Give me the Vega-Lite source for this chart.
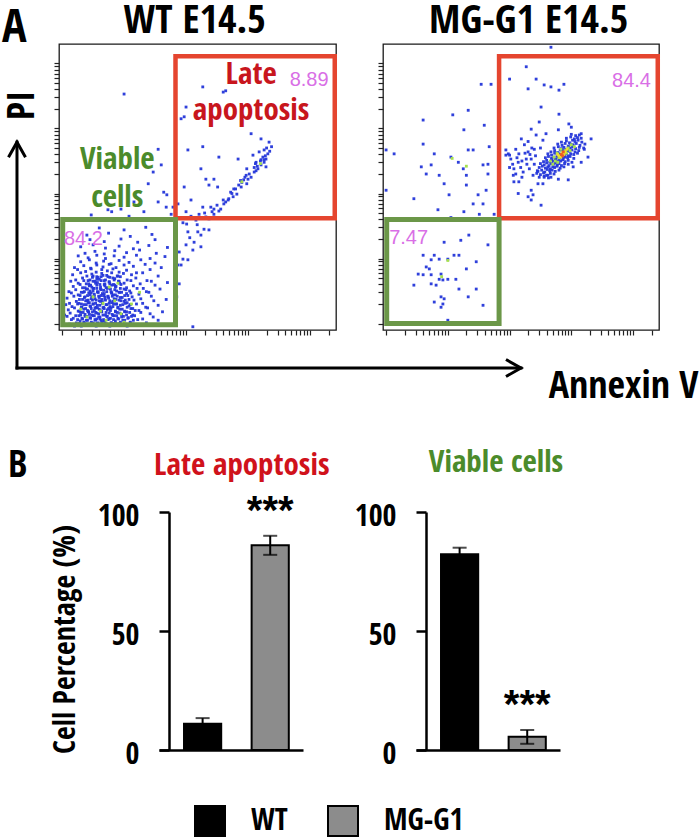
{
"$schema": "https://vega.github.io/schema/vega-lite/v6.json",
"padding": {"top": 0, "left": 1, "right": 0, "bottom": 0},
"background": "white",
"columns": 2,
"bounds": "flush",
"spacing": {"row": 182, "column": 47},
"resolve": {"scale": {"color": "independent"}, "legend": {"color": "independent"}},
"config": {
  "font": "Noto Sans Condensed, Open Sans Condensed, Liberation Sans Narrow, DejaVu Sans Condensed, sans-serif",
  "view": {"stroke": null},
  "axis": {"grid": false, "labelColor": "black", "titleColor": "black"}
},
"datasets": {
  "wt": [
    {"av":1.05,"pi":0.97},{"av":1.12,"pi":0.99},{"av":1.2,"pi":0.96},{"av":1.26,"pi":0.98},{"av":1.31,"pi":0.96},{"av":1.38,"pi":0.99},{"av":1.44,"pi":0.97},{"av":1.49,"pi":1.0},{"av":1.55,"pi":0.96},{"av":1.6,"pi":0.98},{"av":1.66,"pi":0.97},{"av":1.71,"pi":0.99},{"av":1.77,"pi":0.96},{"av":1.83,"pi":1.0},{"av":1.9,"pi":0.97},{"av":1.97,"pi":0.98},{"av":2.05,"pi":0.96},{"av":2.14,"pi":0.99},{"av":2.25,"pi":0.97},{"av":2.4,"pi":0.98},
    {"av":1.02,"pi":1.03},{"av":1.15,"pi":1.06},{"av":1.23,"pi":1.01},{"av":1.29,"pi":1.04},{"av":1.36,"pi":1.0},{"av":1.41,"pi":1.05},{"av":1.47,"pi":1.02},{"av":1.53,"pi":1.06},{"av":1.58,"pi":1.01},{"av":1.63,"pi":1.05},{"av":1.69,"pi":1.03},{"av":1.74,"pi":1.06},{"av":1.8,"pi":1.01},{"av":1.86,"pi":1.04},{"av":1.93,"pi":1.0},{"av":2.01,"pi":1.05},{"av":2.1,"pi":1.02},{"av":2.22,"pi":1.06},{"av":2.36,"pi":1.01},{"av":2.55,"pi":1.05},
    {"av":1.08,"pi":1.11},{"av":1.18,"pi":1.08},{"av":1.27,"pi":1.12},{"av":1.33,"pi":1.07},{"av":1.4,"pi":1.11},{"av":1.45,"pi":1.09},{"av":1.5,"pi":1.12},{"av":1.56,"pi":1.07},{"av":1.61,"pi":1.1},{"av":1.67,"pi":1.06},{"av":1.72,"pi":1.11},{"av":1.78,"pi":1.08},{"av":1.84,"pi":1.12},{"av":1.91,"pi":1.07},{"av":1.99,"pi":1.11},{"av":2.07,"pi":1.09},{"av":2.17,"pi":1.12},{"av":2.3,"pi":1.07},{"av":2.47,"pi":1.1},
    {"av":1.04,"pi":1.13},{"av":1.13,"pi":1.16},{"av":1.22,"pi":1.12},{"av":1.3,"pi":1.17},{"av":1.37,"pi":1.14},{"av":1.43,"pi":1.18},{"av":1.48,"pi":1.13},{"av":1.54,"pi":1.17},{"av":1.59,"pi":1.15},{"av":1.64,"pi":1.18},{"av":1.7,"pi":1.13},{"av":1.76,"pi":1.16},{"av":1.82,"pi":1.12},{"av":1.89,"pi":1.17},{"av":1.96,"pi":1.14},{"av":2.04,"pi":1.18},{"av":2.14,"pi":1.13},{"av":2.27,"pi":1.17},{"av":2.42,"pi":1.15},{"av":2.62,"pi":1.18},
    {"av":1.1,"pi":1.21},{"av":1.2,"pi":1.24},{"av":1.28,"pi":1.19},{"av":1.35,"pi":1.22},{"av":1.42,"pi":1.18},{"av":1.47,"pi":1.23},{"av":1.52,"pi":1.2},{"av":1.57,"pi":1.24},{"av":1.63,"pi":1.19},{"av":1.68,"pi":1.23},{"av":1.73,"pi":1.21},{"av":1.79,"pi":1.24},{"av":1.86,"pi":1.19},{"av":1.93,"pi":1.22},{"av":2.01,"pi":1.18},{"av":2.11,"pi":1.23},{"av":2.24,"pi":1.2},{"av":2.38,"pi":1.24},
    {"av":1.06,"pi":1.29},{"av":1.16,"pi":1.26},{"av":1.25,"pi":1.3},{"av":1.32,"pi":1.25},{"av":1.39,"pi":1.29},{"av":1.45,"pi":1.27},{"av":1.5,"pi":1.3},{"av":1.55,"pi":1.25},{"av":1.61,"pi":1.28},{"av":1.66,"pi":1.24},{"av":1.71,"pi":1.29},{"av":1.77,"pi":1.26},{"av":1.83,"pi":1.3},{"av":1.9,"pi":1.25},{"av":1.98,"pi":1.29},{"av":2.08,"pi":1.27},{"av":2.2,"pi":1.3},{"av":2.35,"pi":1.25},{"av":2.55,"pi":1.28},
    {"av":1.12,"pi":1.31},{"av":1.23,"pi":1.34},{"av":1.31,"pi":1.3},{"av":1.38,"pi":1.35},{"av":1.44,"pi":1.32},{"av":1.49,"pi":1.36},{"av":1.54,"pi":1.31},{"av":1.6,"pi":1.35},{"av":1.65,"pi":1.33},{"av":1.7,"pi":1.36},{"av":1.76,"pi":1.31},{"av":1.82,"pi":1.34},{"av":1.88,"pi":1.3},{"av":1.95,"pi":1.35},{"av":2.05,"pi":1.32},{"av":2.16,"pi":1.36},{"av":2.3,"pi":1.31},{"av":2.48,"pi":1.35},
    {"av":1.08,"pi":1.39},{"av":1.19,"pi":1.42},{"av":1.28,"pi":1.37},{"av":1.36,"pi":1.4},{"av":1.42,"pi":1.36},{"av":1.48,"pi":1.41},{"av":1.53,"pi":1.38},{"av":1.59,"pi":1.42},{"av":1.64,"pi":1.37},{"av":1.69,"pi":1.41},{"av":1.75,"pi":1.39},{"av":1.81,"pi":1.42},{"av":1.87,"pi":1.37},{"av":1.94,"pi":1.4},{"av":2.02,"pi":1.36},{"av":2.13,"pi":1.41},{"av":2.27,"pi":1.38},{"av":2.44,"pi":1.42},{"av":2.68,"pi":1.37},
    {"av":1.15,"pi":1.47},{"av":1.26,"pi":1.44},{"av":1.34,"pi":1.48},{"av":1.41,"pi":1.43},{"av":1.47,"pi":1.47},{"av":1.52,"pi":1.45},{"av":1.58,"pi":1.48},{"av":1.63,"pi":1.43},{"av":1.68,"pi":1.46},{"av":1.74,"pi":1.42},{"av":1.8,"pi":1.47},{"av":1.86,"pi":1.44},{"av":1.93,"pi":1.48},{"av":2.01,"pi":1.43},{"av":2.11,"pi":1.47},{"av":2.24,"pi":1.45},{"av":2.4,"pi":1.48},
    {"av":1.11,"pi":1.49},{"av":1.22,"pi":1.52},{"av":1.31,"pi":1.48},{"av":1.39,"pi":1.53},{"av":1.45,"pi":1.5},{"av":1.51,"pi":1.54},{"av":1.57,"pi":1.49},{"av":1.62,"pi":1.53},{"av":1.67,"pi":1.51},{"av":1.73,"pi":1.54},{"av":1.79,"pi":1.49},{"av":1.85,"pi":1.52},{"av":1.92,"pi":1.48},{"av":2.0,"pi":1.53},{"av":2.09,"pi":1.5},{"av":2.21,"pi":1.54},{"av":2.36,"pi":1.49},{"av":2.58,"pi":1.53},
    {"av":1.18,"pi":1.57},{"av":1.29,"pi":1.6},{"av":1.37,"pi":1.55},{"av":1.44,"pi":1.58},{"av":1.5,"pi":1.54},{"av":1.56,"pi":1.59},{"av":1.62,"pi":1.56},{"av":1.68,"pi":1.6},{"av":1.74,"pi":1.55},{"av":1.8,"pi":1.59},{"av":1.87,"pi":1.57},{"av":1.95,"pi":1.6},{"av":2.04,"pi":1.55},{"av":2.15,"pi":1.58},{"av":2.31,"pi":1.54},{"av":2.5,"pi":1.59},
    {"av":1.14,"pi":1.65},{"av":1.26,"pi":1.62},{"av":1.35,"pi":1.66},{"av":1.43,"pi":1.61},{"av":1.5,"pi":1.65},{"av":1.57,"pi":1.63},{"av":1.63,"pi":1.66},{"av":1.69,"pi":1.61},{"av":1.76,"pi":1.64},{"av":1.83,"pi":1.6},{"av":1.91,"pi":1.65},{"av":2.0,"pi":1.62},{"av":2.11,"pi":1.66},{"av":2.26,"pi":1.61},{"av":2.44,"pi":1.65},{"av":2.7,"pi":1.63},
    {"av":1.22,"pi":1.67},{"av":1.33,"pi":1.7},{"av":1.42,"pi":1.66},{"av":1.49,"pi":1.71},{"av":1.56,"pi":1.68},{"av":1.63,"pi":1.72},{"av":1.7,"pi":1.67},{"av":1.77,"pi":1.71},{"av":1.85,"pi":1.69},{"av":1.94,"pi":1.72},{"av":2.05,"pi":1.67},{"av":2.19,"pi":1.7},{"av":2.37,"pi":1.66},
    {"av":1.17,"pi":1.75},{"av":1.3,"pi":1.78},{"av":1.4,"pi":1.73},{"av":1.48,"pi":1.76},{"av":1.56,"pi":1.72},{"av":1.64,"pi":1.77},{"av":1.72,"pi":1.74},{"av":1.8,"pi":1.78},{"av":1.89,"pi":1.73},{"av":1.99,"pi":1.77},{"av":2.12,"pi":1.75},{"av":2.3,"pi":1.78},{"av":2.55,"pi":1.73},
    {"av":1.25,"pi":1.83},{"av":1.38,"pi":1.8},{"av":1.47,"pi":1.84},{"av":1.55,"pi":1.79},{"av":1.64,"pi":1.83},{"av":1.73,"pi":1.81},{"av":1.82,"pi":1.84},{"av":1.92,"pi":1.79},{"av":2.04,"pi":1.82},{"av":2.2,"pi":1.78},{"av":2.42,"pi":1.83},
    {"av":1.2,"pi":1.86},{"av":1.35,"pi":1.89},{"av":1.46,"pi":1.85},{"av":1.56,"pi":1.9},{"av":1.66,"pi":1.87},{"av":1.76,"pi":1.91},{"av":1.87,"pi":1.86},{"av":2.0,"pi":1.9},{"av":2.15,"pi":1.88},{"av":2.34,"pi":1.91},{"av":2.6,"pi":1.86},
    {"av":1.3,"pi":1.95},{"av":1.44,"pi":1.98},{"av":1.55,"pi":1.93},{"av":1.67,"pi":1.96},{"av":1.79,"pi":1.92},{"av":1.92,"pi":1.97},{"av":2.08,"pi":1.94},{"av":2.27,"pi":1.98},{"av":2.5,"pi":1.93},
    {"av":1.26,"pi":2.04},{"av":1.42,"pi":2.01},{"av":1.56,"pi":2.05},{"av":1.7,"pi":2.0},{"av":1.84,"pi":2.04},{"av":2.0,"pi":2.02},{"av":2.2,"pi":2.05},{"av":2.42,"pi":2.0},{"av":2.66,"pi":2.03},
    {"av":1.37,"pi":2.08},{"av":1.53,"pi":2.11},{"av":1.68,"pi":2.07},{"av":1.85,"pi":2.12},{"av":2.04,"pi":2.09},{"av":2.25,"pi":2.13},{"av":2.52,"pi":2.08},
    {"av":1.3,"pi":2.18},{"av":1.5,"pi":2.21},{"av":1.7,"pi":2.16},{"av":1.92,"pi":2.19},{"av":2.15,"pi":2.15},{"av":2.4,"pi":2.2},{"av":2.7,"pi":2.17},
    {"av":1.45,"pi":2.29},{"av":1.68,"pi":2.26},{"av":1.95,"pi":2.3},{"av":2.22,"pi":2.25},{"av":2.5,"pi":2.29},
    {"av":1.4,"pi":2.36},{"av":1.75,"pi":2.39},{"av":2.1,"pi":2.34},{"av":2.45,"pi":2.37},
    {"av":1.6,"pi":2.47},{"av":2.0,"pi":2.44},{"av":2.35,"pi":2.48},
    {"av":1.28,"pi":1.0},{"av":1.35,"pi":1.02},{"av":1.42,"pi":0.99},{"av":1.5,"pi":1.01},{"av":1.57,"pi":1.0},{"av":1.64,"pi":1.02},{"av":1.72,"pi":0.99},{"av":1.79,"pi":1.01},{"av":1.87,"pi":1.0},{"av":1.94,"pi":1.02},{"av":2.02,"pi":0.99},{"av":2.1,"pi":1.01},
    {"av":1.25,"pi":1.06},{"av":1.32,"pi":1.08},{"av":1.39,"pi":1.05},{"av":1.46,"pi":1.08},{"av":1.54,"pi":1.05},{"av":1.61,"pi":1.07},{"av":1.68,"pi":1.04},{"av":1.76,"pi":1.07},{"av":1.83,"pi":1.06},{"av":1.9,"pi":1.08},{"av":1.98,"pi":1.05},{"av":2.06,"pi":1.08},{"av":2.15,"pi":1.05},
    {"av":1.3,"pi":1.13},{"av":1.37,"pi":1.11},{"av":1.44,"pi":1.14},{"av":1.52,"pi":1.12},{"av":1.59,"pi":1.1},{"av":1.66,"pi":1.13},{"av":1.73,"pi":1.11},{"av":1.81,"pi":1.14},{"av":1.88,"pi":1.12},{"av":1.96,"pi":1.1},{"av":2.04,"pi":1.13},{"av":2.12,"pi":1.11},
    {"av":1.26,"pi":1.19},{"av":1.34,"pi":1.17},{"av":1.41,"pi":1.2},{"av":1.49,"pi":1.18},{"av":1.56,"pi":1.16},{"av":1.63,"pi":1.19},{"av":1.71,"pi":1.17},{"av":1.78,"pi":1.2},{"av":1.86,"pi":1.18},{"av":1.93,"pi":1.16},{"av":2.01,"pi":1.19},{"av":2.09,"pi":1.17},{"av":2.18,"pi":1.2},
    {"av":1.31,"pi":1.25},{"av":1.38,"pi":1.23},{"av":1.46,"pi":1.26},{"av":1.53,"pi":1.24},{"av":1.6,"pi":1.22},{"av":1.67,"pi":1.25},{"av":1.75,"pi":1.23},{"av":1.82,"pi":1.26},{"av":1.9,"pi":1.24},{"av":1.97,"pi":1.22},{"av":2.05,"pi":1.25},{"av":2.14,"pi":1.23},
    {"av":1.27,"pi":1.31},{"av":1.35,"pi":1.29},{"av":1.42,"pi":1.32},{"av":1.5,"pi":1.3},{"av":1.57,"pi":1.28},{"av":1.65,"pi":1.31},{"av":1.72,"pi":1.29},{"av":1.8,"pi":1.32},{"av":1.87,"pi":1.3},{"av":1.94,"pi":1.28},{"av":2.02,"pi":1.31},{"av":2.1,"pi":1.29},
    {"av":1.33,"pi":1.37},{"av":1.4,"pi":1.35},{"av":1.47,"pi":1.38},{"av":1.55,"pi":1.36},{"av":1.62,"pi":1.34},{"av":1.69,"pi":1.37},{"av":1.77,"pi":1.35},{"av":1.84,"pi":1.38},{"av":1.92,"pi":1.36},{"av":2.0,"pi":1.34},{"av":2.08,"pi":1.37},
    {"av":1.29,"pi":1.43},{"av":1.37,"pi":1.41},{"av":1.45,"pi":1.44},{"av":1.52,"pi":1.42},{"av":1.6,"pi":1.4},{"av":1.67,"pi":1.43},{"av":1.74,"pi":1.41},{"av":1.82,"pi":1.44},{"av":1.89,"pi":1.42},{"av":1.97,"pi":1.4},{"av":2.06,"pi":1.43},
    {"av":1.36,"pi":1.49},{"av":1.43,"pi":1.47},{"av":1.5,"pi":1.5},{"av":1.58,"pi":1.48},{"av":1.65,"pi":1.46},{"av":1.72,"pi":1.49},{"av":1.8,"pi":1.47},{"av":1.88,"pi":1.5},{"av":1.96,"pi":1.48},{"av":2.04,"pi":1.46},
    {"av":1.33,"pi":1.55},{"av":1.41,"pi":1.53},{"av":1.48,"pi":1.56},{"av":1.56,"pi":1.54},{"av":1.63,"pi":1.52},{"av":1.71,"pi":1.55},{"av":1.78,"pi":1.53},{"av":1.86,"pi":1.56},{"av":1.94,"pi":1.54},{"av":2.03,"pi":1.52},
    {"av":1.39,"pi":1.61},{"av":1.46,"pi":1.59},{"av":1.54,"pi":1.62},{"av":1.61,"pi":1.6},{"av":1.69,"pi":1.58},{"av":1.77,"pi":1.61},{"av":1.85,"pi":1.59},{"av":1.93,"pi":1.62},
    {"av":1.45,"pi":1.67},{"av":1.53,"pi":1.65},{"av":1.6,"pi":1.68},{"av":1.68,"pi":1.66},{"av":1.76,"pi":1.64},{"av":1.84,"pi":1.67},{"av":1.92,"pi":1.65},
    {"av":1.5,"pi":1.73},{"av":1.58,"pi":1.71},{"av":1.66,"pi":1.74},{"av":1.74,"pi":1.72},{"av":1.82,"pi":1.7},{"av":1.9,"pi":1.73},
    {"av":2.0,"pi":4.53},{"av":2.55,"pi":3.68},{"av":2.6,"pi":3.44},{"av":2.47,"pi":3.33},{"av":2.39,"pi":3.15},{"av":2.64,"pi":3.02},{"av":2.69,"pi":2.98},{"av":1.74,"pi":2.75},{"av":1.8,"pi":2.72},{"av":1.95,"pi":2.76},{"av":2.16,"pi":2.87},{"av":2.32,"pi":2.72},{"av":2.55,"pi":2.87},{"av":2.76,"pi":2.68},{"av":2.08,"pi":2.65},{"av":1.47,"pi":2.67},{"av":2.68,"pi":2.79},{"av":2.79,"pi":2.79},{"av":2.87,"pi":2.84},
    {"av":2.95,"pi":2.55},{"av":3.03,"pi":2.41},{"av":3.19,"pi":2.41},{"av":3.24,"pi":2.36},{"av":3.29,"pi":2.45},{"av":3.37,"pi":2.44},{"av":3.13,"pi":2.25},{"av":3.11,"pi":2.13},{"av":3.0,"pi":2.21},{"av":2.95,"pi":1.99},{"av":2.92,"pi":1.9},{"av":3.03,"pi":1.98},{"av":2.87,"pi":1.9},{"av":3.11,"pi":0.95},{"av":3.06,"pi":2.32},{"av":3.18,"pi":2.52},{"av":2.89,"pi":2.1},{"av":3.24,"pi":2.18},{"av":3.01,"pi":2.53},{"av":2.89,"pi":1.61},{"av":2.85,"pi":1.41},
    {"av":3.27,"pi":4.64},{"av":3.6,"pi":4.56},{"av":3.64,"pi":4.58},{"av":3.0,"pi":4.33},{"av":2.97,"pi":4.18},{"av":2.92,"pi":4.15},{"av":4.05,"pi":3.92},{"av":4.21,"pi":3.84},{"av":4.34,"pi":3.79},{"av":3.03,"pi":3.67},{"av":3.27,"pi":3.72},{"av":3.53,"pi":3.56},{"av":3.84,"pi":3.53},{"av":4.08,"pi":3.59},{"av":4.21,"pi":3.52},{"av":4.26,"pi":3.52},{"av":4.29,"pi":3.41},{"av":3.98,"pi":3.38},{"av":4.13,"pi":3.35},{"av":3.97,"pi":3.28},{"av":3.24,"pi":3.38},{"av":3.32,"pi":3.22},{"av":3.45,"pi":3.22},{"av":3.37,"pi":3.13},{"av":3.51,"pi":3.1},{"av":2.97,"pi":3.1},{"av":3.8,"pi":3.07},{"av":3.89,"pi":3.1},{"av":3.98,"pi":3.15},{"av":3.72,"pi":3.02},{"av":3.82,"pi":2.99},{"av":3.08,"pi":2.9},{"av":3.27,"pi":2.79},{"av":3.4,"pi":2.79},{"av":3.45,"pi":2.76},{"av":3.64,"pi":2.87},{"av":3.69,"pi":2.92},
    {"av":3.77,"pi":3.07},{"av":3.9,"pi":3.17},{"av":4.0,"pi":3.22},{"av":4.1,"pi":3.33},{"av":4.16,"pi":3.38},{"av":4.21,"pi":3.44},{"av":4.26,"pi":3.48},{"av":4.29,"pi":3.53},{"av":4.32,"pi":3.61},{"av":4.26,"pi":3.67},{"av":4.18,"pi":3.64},{"av":4.24,"pi":3.56},{"av":4.05,"pi":3.25},{"av":3.93,"pi":3.21},{"av":3.85,"pi":3.13},{"av":3.68,"pi":2.9},{"av":3.56,"pi":2.76},{"av":3.45,"pi":2.68},{"av":3.37,"pi":2.61},{"av":3.32,"pi":2.64},{"av":3.16,"pi":2.59},{"av":3.21,"pi":2.68},{"av":3.76,"pi":2.95},{"av":4.13,"pi":3.48},{"av":3.61,"pi":2.84},{"av":3.53,"pi":2.73},{"av":3.08,"pi":2.65},{"av":3.0,"pi":2.72},
    {"av":4.02,"pi":3.3},{"av":4.15,"pi":3.42},{"av":4.2,"pi":3.5},{"av":4.1,"pi":3.4},{"av":3.95,"pi":3.25},{"av":3.88,"pi":3.2},{"av":4.28,"pi":3.58},{"av":4.35,"pi":3.65},{"av":4.3,"pi":3.7},{"av":4.12,"pi":3.46},{"av":3.74,"pi":3.0},{"av":3.6,"pi":2.9},{"av":3.5,"pi":2.82},{"av":3.42,"pi":2.72},{"av":3.3,"pi":2.7},{"av":4.38,"pi":3.72}
  ],
  "wtHot": [
    {"av":1.62,"pi":1.19,"level":"mid"},{"av":1.85,"pi":1.35,"level":"mid"},{"av":1.71,"pi":1.05,"level":"mid"},{"av":1.95,"pi":1.15,"level":"mid"},{"av":1.5,"pi":1.41,"level":"mid"},{"av":2.12,"pi":1.3,"level":"mid"},{"av":1.76,"pi":1.56,"level":"mid"},{"av":1.4,"pi":1.1,"level":"mid"},{"av":2.0,"pi":1.02,"level":"mid"},{"av":1.66,"pi":1.31,"level":"mid"},{"av":1.3,"pi":1.22,"level":"mid"},{"av":1.9,"pi":1.62,"level":"mid"},{"av":2.25,"pi":1.48,"level":"mid"},{"av":1.55,"pi":0.98,"level":"mid"},{"av":4.2,"pi":3.46,"level":"mid"},{"av":3.9,"pi":3.18,"level":"mid"}
  ],
  "mg": [
    {"av":3.48,"pi":3.25},{"av":3.56,"pi":3.27},{"av":3.63,"pi":3.24},
    {"av":3.44,"pi":3.31},{"av":3.5,"pi":3.29},{"av":3.55,"pi":3.32},{"av":3.6,"pi":3.28},{"av":3.66,"pi":3.31},{"av":3.72,"pi":3.3},
    {"av":3.46,"pi":3.34},{"av":3.52,"pi":3.36},{"av":3.57,"pi":3.33},{"av":3.61,"pi":3.37},{"av":3.65,"pi":3.35},{"av":3.69,"pi":3.36},{"av":3.74,"pi":3.34},{"av":3.8,"pi":3.36},
    {"av":3.48,"pi":3.4},{"av":3.53,"pi":3.42},{"av":3.58,"pi":3.39},{"av":3.62,"pi":3.41},{"av":3.66,"pi":3.38},{"av":3.7,"pi":3.41},{"av":3.73,"pi":3.4},{"av":3.77,"pi":3.42},{"av":3.82,"pi":3.39},{"av":3.88,"pi":3.41},
    {"av":3.5,"pi":3.46},{"av":3.56,"pi":3.44},{"av":3.6,"pi":3.47},{"av":3.64,"pi":3.43},{"av":3.68,"pi":3.46},{"av":3.71,"pi":3.45},{"av":3.74,"pi":3.47},{"av":3.77,"pi":3.44},{"av":3.8,"pi":3.46},{"av":3.84,"pi":3.43},{"av":3.89,"pi":3.46},{"av":3.95,"pi":3.45},
    {"av":3.55,"pi":3.49},{"av":3.6,"pi":3.51},{"av":3.65,"pi":3.48},{"av":3.68,"pi":3.52},{"av":3.71,"pi":3.5},{"av":3.74,"pi":3.52},{"av":3.77,"pi":3.49},{"av":3.8,"pi":3.51},{"av":3.83,"pi":3.5},{"av":3.86,"pi":3.52},{"av":3.9,"pi":3.49},{"av":3.95,"pi":3.51},{"av":4.01,"pi":3.48},
    {"av":3.58,"pi":3.55},{"av":3.63,"pi":3.57},{"av":3.68,"pi":3.54},{"av":3.72,"pi":3.56},{"av":3.75,"pi":3.53},{"av":3.78,"pi":3.56},{"av":3.81,"pi":3.55},{"av":3.84,"pi":3.57},{"av":3.87,"pi":3.54},{"av":3.9,"pi":3.56},{"av":3.94,"pi":3.55},{"av":3.98,"pi":3.57},{"av":4.04,"pi":3.54},
    {"av":3.62,"pi":3.61},{"av":3.68,"pi":3.59},{"av":3.73,"pi":3.62},{"av":3.77,"pi":3.58},{"av":3.8,"pi":3.61},{"av":3.83,"pi":3.6},{"av":3.86,"pi":3.62},{"av":3.89,"pi":3.59},{"av":3.92,"pi":3.61},{"av":3.95,"pi":3.58},{"av":3.99,"pi":3.61},{"av":4.04,"pi":3.6},{"av":4.1,"pi":3.62},
    {"av":3.67,"pi":3.64},{"av":3.73,"pi":3.66},{"av":3.78,"pi":3.63},{"av":3.82,"pi":3.67},{"av":3.85,"pi":3.65},{"av":3.88,"pi":3.67},{"av":3.91,"pi":3.64},{"av":3.94,"pi":3.66},{"av":3.97,"pi":3.65},{"av":4.01,"pi":3.67},{"av":4.06,"pi":3.64},{"av":4.12,"pi":3.66},
    {"av":3.72,"pi":3.7},{"av":3.79,"pi":3.72},{"av":3.84,"pi":3.69},{"av":3.88,"pi":3.71},{"av":3.92,"pi":3.68},{"av":3.95,"pi":3.71},{"av":3.98,"pi":3.7},{"av":4.02,"pi":3.72},{"av":4.07,"pi":3.69},{"av":4.13,"pi":3.71},{"av":4.2,"pi":3.7},
    {"av":3.78,"pi":3.76},{"av":3.85,"pi":3.74},{"av":3.9,"pi":3.77},{"av":3.95,"pi":3.73},{"av":3.99,"pi":3.76},{"av":4.03,"pi":3.75},{"av":4.08,"pi":3.77},{"av":4.14,"pi":3.74},{"av":4.22,"pi":3.76},
    {"av":3.84,"pi":3.79},{"av":3.92,"pi":3.81},{"av":3.97,"pi":3.78},{"av":4.02,"pi":3.82},{"av":4.06,"pi":3.8},{"av":4.11,"pi":3.82},{"av":4.17,"pi":3.79},
    {"av":3.92,"pi":3.85},{"av":3.99,"pi":3.87},{"av":4.05,"pi":3.84},{"av":4.1,"pi":3.86},{"av":4.16,"pi":3.85},
    {"av":4.0,"pi":3.91},{"av":4.07,"pi":3.89},{"av":4.13,"pi":3.9},
    {"av":2.94,"pi":3.59},{"av":2.98,"pi":3.61},{"av":3.1,"pi":3.68},{"av":3.19,"pi":3.84},{"av":3.24,"pi":3.75},{"av":3.3,"pi":3.64},{"av":3.35,"pi":3.53},{"av":3.14,"pi":3.48},{"av":3.07,"pi":3.38},{"av":3.22,"pi":3.33},{"av":3.32,"pi":3.38},{"av":3.38,"pi":3.28},{"av":3.02,"pi":3.53},{"av":3.27,"pi":3.53},{"av":3.4,"pi":3.68},{"av":3.43,"pi":3.9},{"av":3.48,"pi":4.1},{"av":3.15,"pi":3.61},{"av":3.38,"pi":2.98},{"av":3.35,"pi":2.9},{"av":3.46,"pi":3.15},{"av":3.54,"pi":3.15},{"av":3.56,"pi":3.25},{"av":3.67,"pi":3.25},{"av":4.21,"pi":3.68},{"av":4.27,"pi":3.56},{"av":4.16,"pi":3.48},{"av":4.03,"pi":3.41},{"av":4.16,"pi":3.92},{"av":4.0,"pi":4.02},{"av":3.79,"pi":3.98},{"av":3.59,"pi":3.92},{"av":3.54,"pi":3.82},{"av":3.06,"pi":3.28},{"av":3.95,"pi":3.21},{"av":3.79,"pi":3.22},{"av":3.62,"pi":3.28},{"av":3.15,"pi":3.18},{"av":2.94,"pi":3.67},
    {"av":3.05,"pi":3.45},{"av":3.12,"pi":3.55},{"av":3.2,"pi":3.5},{"av":3.28,"pi":3.45},{"av":3.33,"pi":3.6},{"av":3.18,"pi":3.4},{"av":3.25,"pi":3.62},{"av":3.4,"pi":3.45},{"av":3.42,"pi":3.58},{"av":3.1,"pi":3.3},{"av":3.36,"pi":3.7},{"av":3.45,"pi":3.35},{"av":3.2,"pi":3.25},{"av":3.5,"pi":3.7},{"av":3.3,"pi":3.8},{"av":3.0,"pi":3.4},
    {"av":3.27,"pi":4.95},{"av":3.0,"pi":4.76},{"av":3.43,"pi":4.76},{"av":3.56,"pi":4.67},{"av":3.67,"pi":4.64},{"av":3.8,"pi":4.59},{"av":3.88,"pi":4.68},{"av":3.3,"pi":4.61},{"av":3.51,"pi":4.33},{"av":3.8,"pi":4.22},{"av":3.35,"pi":3.99},{"av":3.96,"pi":4.07},{"av":4.32,"pi":3.84},{"av":3.07,"pi":3.18},{"av":3.14,"pi":3.0},{"av":3.3,"pi":2.95},{"av":3.35,"pi":3.05},{"av":3.51,"pi":2.82},{"av":3.0,"pi":3.59},{"av":3.67,"pi":5.25},
    {"av":1.0,"pi":3.67},{"av":1.13,"pi":3.61},{"av":1.6,"pi":4.13},{"av":1.6,"pi":3.76},{"av":1.45,"pi":2.92},{"av":1.57,"pi":3.41},{"av":1.65,"pi":3.3},{"av":1.73,"pi":3.44},{"av":1.86,"pi":3.28},{"av":1.94,"pi":3.15},{"av":2.02,"pi":2.98},{"av":2.05,"pi":3.56},{"av":2.17,"pi":3.48},{"av":2.3,"pi":3.28},{"av":2.3,"pi":3.13},{"av":2.26,"pi":3.98},{"av":2.33,"pi":4.28},{"av":2.08,"pi":4.21},{"av":2.33,"pi":3.67},{"av":2.41,"pi":3.67},{"av":2.49,"pi":2.98},{"av":2.41,"pi":2.84},{"av":2.57,"pi":2.84},{"av":2.62,"pi":3.05},{"av":2.65,"pi":3.3},{"av":2.65,"pi":3.45},{"av":2.57,"pi":3.44},{"av":2.67,"pi":3.72},{"av":2.59,"pi":4.05},{"av":2.54,"pi":4.68},{"av":2.7,"pi":4.68},{"av":2.75,"pi":2.68},{"av":2.51,"pi":2.68},{"av":2.05,"pi":2.63},{"av":1.84,"pi":2.75},{"av":2.26,"pi":2.72},{"av":1.78,"pi":3.61},{"av":2.25,"pi":3.38},{"av":1.0,"pi":3.05},
    {"av":2.34,"pi":2.36},{"av":2.21,"pi":2.28},{"av":2.65,"pi":2.21},{"av":1.94,"pi":2.25},{"av":1.78,"pi":2.05},{"av":1.86,"pi":1.99},{"av":1.73,"pi":1.98},{"av":2.0,"pi":1.99},{"av":2.1,"pi":2.05},{"av":2.18,"pi":2.05},{"av":2.46,"pi":1.95},{"av":1.65,"pi":1.87},{"av":1.7,"pi":1.84},{"av":1.6,"pi":1.75},{"av":1.73,"pi":1.75},{"av":1.89,"pi":1.76},{"av":1.86,"pi":1.68},{"av":1.92,"pi":1.67},{"av":2.0,"pi":1.68},{"av":2.13,"pi":1.68},{"av":1.52,"pi":1.76},{"av":1.45,"pi":1.59},{"av":1.73,"pi":1.61},{"av":1.81,"pi":1.59},{"av":2.18,"pi":1.53},{"av":2.3,"pi":1.84},{"av":2.46,"pi":1.53},{"av":2.33,"pi":1.41},{"av":1.89,"pi":1.41},{"av":1.94,"pi":1.38},{"av":1.78,"pi":1.33},{"av":1.92,"pi":1.3},{"av":1.89,"pi":1.25},{"av":2.0,"pi":1.05},{"av":2.57,"pi":1.28},{"av":1.6,"pi":2.05}
  ],
  "mgHot": [
    {"av":3.74,"pi":3.5,"level":"mid"},{"av":3.8,"pi":3.55,"level":"mid"},{"av":3.86,"pi":3.6,"level":"mid"},{"av":3.9,"pi":3.66,"level":"mid"},{"av":3.77,"pi":3.62,"level":"mid"},{"av":3.95,"pi":3.7,"level":"mid"},{"av":3.7,"pi":3.45,"level":"mid"},{"av":3.83,"pi":3.68,"level":"mid"},{"av":4.0,"pi":3.75,"level":"mid"},{"av":3.72,"pi":3.56,"level":"mid"},{"av":3.92,"pi":3.62,"level":"mid"},{"av":3.78,"pi":3.48,"level":"mid"},{"av":3.98,"pi":3.66,"level":"mid"},{"av":3.66,"pi":3.5,"level":"mid"},{"av":4.05,"pi":3.72,"level":"mid"},{"av":2.0,"pi":1.97,"level":"mid"},{"av":1.9,"pi":1.72,"level":"mid"},{"av":2.07,"pi":3.54,"level":"mid"},{"av":2.3,"pi":3.42,"level":"mid"},
    {"av":3.8,"pi":3.58,"level":"high"},{"av":3.85,"pi":3.63,"level":"high"},{"av":3.88,"pi":3.6,"level":"high"},{"av":3.83,"pi":3.56,"level":"high"},{"av":3.9,"pi":3.64,"level":"high"},{"av":3.78,"pi":3.6,"level":"high"},{"av":3.93,"pi":3.68,"level":"high"},
    {"av":3.84,"pi":3.6,"level":"peak"},{"av":3.87,"pi":3.64,"level":"peak"},{"av":3.86,"pi":3.58,"level":"peak"}
  ],
  "late": [
    {"group":"WT","pct":11,"lo":8.6,"hi":13.4,"sig":""},
    {"group":"MG-G1","pct":86,"lo":82,"hi":90,"sig":"***"}
  ],
  "viable": [
    {"group":"WT","pct":82.2,"lo":79.4,"hi":85,"sig":""},
    {"group":"MG-G1","pct":5.6,"lo":2.6,"hi":8.4,"sig":"***"}
  ]
},
"concat": [
  {
    "width": 277, "height": 286,
    "view": {"stroke": "#1a1a1a", "strokeWidth": 1.3},
    "encoding": {
      "x": {"field": "av", "type": "quantitative", "scale": {"domain": [0.95, 5.42], "nice": false, "zero": false},
        "axis": {"title": null, "labels": false, "domain": false, "tickSize": 5, "tickWidth": 1.2, "tickColor": "#222",
          "values": [1,1.301,1.477,1.602,1.699,1.778,1.845,1.903,1.954,2,2.301,2.477,2.602,2.699,2.778,2.845,2.903,2.954,3,3.301,3.477,3.602,3.699,3.778,3.845,3.903,3.954,4,4.301,4.477,4.602,4.699,4.778,4.845,4.903,4.954,5,5.301]}},
      "y": {"field": "pi", "type": "quantitative", "scale": {"domain": [0.9, 5.3], "nice": false, "zero": false},
        "axis": {"title": "PI", "titleFontSize": 38, "titleFontWeight": "bold", "titleAngle": 270, "titleX": -26, "titleY": 61, "titleAlign": "center", "titleBaseline": "alphabetic",
          "labels": false, "domain": false, "tickSize": 5, "tickWidth": 1.2, "tickColor": "#222",
          "values": [1,1.301,1.477,1.602,1.699,1.778,1.845,1.903,1.954,2,2.301,2.477,2.602,2.699,2.778,2.845,2.903,2.954,3,3.301,3.477,3.602,3.699,3.778,3.845,3.903,3.954,4,4.301,4.477,4.602,4.699,4.778,4.845,4.903,4.954,5]}}
    },
    "layer": [
      {"data": {"name": "wt"}, "mark": {"type": "square", "size": 8, "color": "#2436d9", "opacity": 0.95}},
      {"data": {"name": "wtHot"}, "mark": {"type": "square", "size": 8, "opacity": 1},
        "encoding": {"color": {"field": "level", "type": "nominal", "scale": {"domain": ["mid", "high", "peak"], "range": ["#a6e04e", "#f1df2c", "#ee5a24"]}, "legend": null}}},
      {"data": {"values": [{"av": 2.83, "pi": 2.62, "av2": 5.4, "pi2": 5.11}]}, "mark": {"type": "rect", "fill": "transparent", "stroke": "#e5452f", "strokeWidth": 4.5},
        "encoding": {"x2": {"field": "av2"}, "y2": {"field": "pi2"}}},
      {"data": {"values": [{"av": 1.01, "pi": 0.98, "av2": 2.83, "pi2": 2.6}]}, "mark": {"type": "rect", "fill": "transparent", "stroke": "#6b9748", "strokeWidth": 5},
        "encoding": {"x2": {"field": "av2"}, "y2": {"field": "pi2"}}},
      {"data": {"values": [{"av": 3.14, "pi": 5.47, "label": "WT E14.5"}]},
        "mark": {"type": "text", "align": "center", "baseline": "alphabetic", "fontSize": 40, "fontWeight": "bold", "color": "black"},
        "encoding": {"text": {"field": "label"}}},
      {"data": {"values": [{"av": 4.05, "pi": 4.68, "label": "Late"}, {"av": 4.05, "pi": 4.13, "label": "apoptosis"}]},
        "mark": {"type": "text", "align": "center", "baseline": "alphabetic", "fontSize": 31, "fontWeight": "bold", "color": "#c8161d"},
        "encoding": {"text": {"field": "label"}}},
      {"data": {"values": [{"av": 1.89, "pi": 3.38, "label": "Viable"}, {"av": 1.89, "pi": 2.79, "label": "cells"}]},
        "mark": {"type": "text", "align": "center", "baseline": "alphabetic", "fontSize": 31, "fontWeight": "bold", "color": "#4b8b2b"},
        "encoding": {"text": {"field": "label"}}},
      {"data": {"values": [{"av": 5.3, "pi": 4.66, "label": "8.89"}]},
        "mark": {"type": "text", "align": "right", "baseline": "alphabetic", "fontSize": 20, "font": "Liberation Sans", "color": "#d96fe6"},
        "encoding": {"text": {"field": "label"}}},
      {"data": {"values": [{"av": 1.03, "pi": 2.21, "label": "84.2"}]},
        "mark": {"type": "text", "align": "left", "baseline": "alphabetic", "fontSize": 20, "font": "Liberation Sans", "color": "#d96fe6"},
        "encoding": {"text": {"field": "label"}}},
      {"data": {"values": [{"av": 0.272, "pi": 0.315, "av2": 0.272, "pi2": 3.79}, {"av": 0.272, "pi": 0.315, "av2": 8.405, "pi2": 0.315}]},
        "mark": {"type": "rule", "strokeWidth": 3, "color": "black", "strokeCap": "square"},
        "encoding": {"x2": {"field": "av2"}, "y2": {"field": "pi2"}}},
      {"data": {"values": [{"av": 0.272, "pi": 3.79}]},
        "mark": {"type": "point", "shape": "M-0.85,1.5L0,0L0.85,1.5", "size": 400, "filled": false, "stroke": "black", "strokeWidth": 3, "opacity": 1}},
      {"data": {"values": [{"av": 8.405, "pi": 0.315}]},
        "mark": {"type": "point", "shape": "M-1.5,-0.85L0,0L-1.5,0.85", "size": 400, "filled": false, "stroke": "black", "strokeWidth": 3, "opacity": 1}},
      {"data": {"values": [{"av": 0.03, "pi": 5.33, "label": "A"}]},
        "mark": {"type": "text", "align": "left", "baseline": "alphabetic", "fontSize": 46, "fontWeight": "bold", "color": "black"},
        "encoding": {"text": {"field": "label"}}},
      {"data": {"values": [{"av": 0.127, "pi": -1.36, "label": "B"}]},
        "mark": {"type": "text", "align": "left", "baseline": "alphabetic", "fontSize": 38, "fontWeight": "bold", "color": "black"},
        "encoding": {"text": {"field": "label"}}},
      {"data": {"values": [{"av": 3.9, "pi": -1.33, "label": "Late apoptosis"}]},
        "mark": {"type": "text", "align": "center", "baseline": "alphabetic", "fontSize": 31, "fontWeight": "bold", "color": "#d0121b"},
        "encoding": {"text": {"field": "label"}}}
    ]
  },
  {
    "width": 276, "height": 286,
    "view": {"stroke": "#1a1a1a", "strokeWidth": 1.3},
    "encoding": {
      "x": {"field": "av", "type": "quantitative", "scale": {"domain": [0.95, 5.42], "nice": false, "zero": false},
        "axis": {"title": "Annexin V", "titleFontSize": 38, "titleFontWeight": "bold", "titleX": 315, "titleY": 67, "titleAlign": "right", "titleBaseline": "alphabetic",
          "labels": false, "domain": false, "tickSize": 5, "tickWidth": 1.2, "tickColor": "#222",
          "values": [1,1.301,1.477,1.602,1.699,1.778,1.845,1.903,1.954,2,2.301,2.477,2.602,2.699,2.778,2.845,2.903,2.954,3,3.301,3.477,3.602,3.699,3.778,3.845,3.903,3.954,4,4.301,4.477,4.602,4.699,4.778,4.845,4.903,4.954,5,5.301]}},
      "y": {"field": "pi", "type": "quantitative", "scale": {"domain": [0.9, 5.3], "nice": false, "zero": false},
        "axis": {"title": null, "labels": false, "domain": false, "tickSize": 5, "tickWidth": 1.2, "tickColor": "#222",
          "values": [1,1.301,1.477,1.602,1.699,1.778,1.845,1.903,1.954,2,2.301,2.477,2.602,2.699,2.778,2.845,2.903,2.954,3,3.301,3.477,3.602,3.699,3.778,3.845,3.903,3.954,4,4.301,4.477,4.602,4.699,4.778,4.845,4.903,4.954,5]}}
    },
    "layer": [
      {"data": {"name": "mg"}, "mark": {"type": "square", "size": 8, "color": "#2436d9", "opacity": 0.95}},
      {"data": {"name": "mgHot"}, "mark": {"type": "square", "size": 8, "opacity": 1},
        "encoding": {"color": {"field": "level", "type": "nominal", "scale": {"domain": ["mid", "high", "peak"], "range": ["#a6e04e", "#f1df2c", "#ee5a24"]}, "legend": null}}},
      {"data": {"values": [{"av": 2.83, "pi": 2.62, "av2": 5.4, "pi2": 5.11}]}, "mark": {"type": "rect", "fill": "transparent", "stroke": "#e5452f", "strokeWidth": 4.5},
        "encoding": {"x2": {"field": "av2"}, "y2": {"field": "pi2"}}},
      {"data": {"values": [{"av": 1.01, "pi": 1.0, "av2": 2.83, "pi2": 2.6}]}, "mark": {"type": "rect", "fill": "transparent", "stroke": "#6b9748", "strokeWidth": 5},
        "encoding": {"x2": {"field": "av2"}, "y2": {"field": "pi2"}}},
      {"data": {"values": [{"av": 3.31, "pi": 5.47, "label": "MG-G1 E14.5"}]},
        "mark": {"type": "text", "align": "center", "baseline": "alphabetic", "fontSize": 40, "fontWeight": "bold", "color": "black"},
        "encoding": {"text": {"field": "label"}}},
      {"data": {"values": [{"av": 5.29, "pi": 4.64, "label": "84.4"}]},
        "mark": {"type": "text", "align": "right", "baseline": "alphabetic", "fontSize": 20, "font": "Liberation Sans", "color": "#d96fe6"},
        "encoding": {"text": {"field": "label"}}},
      {"data": {"values": [{"av": 1.05, "pi": 2.22, "label": "7.47"}]},
        "mark": {"type": "text", "align": "left", "baseline": "alphabetic", "fontSize": 20, "font": "Liberation Sans", "color": "#d96fe6"},
        "encoding": {"text": {"field": "label"}}},
      {"data": {"values": [{"av": 2.78, "pi": -1.28, "label": "Viable cells"}]},
        "mark": {"type": "text", "align": "center", "baseline": "alphabetic", "fontSize": 31, "fontWeight": "bold", "color": "#4b8b2b"},
        "encoding": {"text": {"field": "label"}}}
    ]
  },
  {
    "width": 244, "height": 238,
    "data": {"name": "late"},
    "encoding": {
      "x": {"field": "group", "type": "nominal", "scale": {"domain": ["WT", "MG-G1"], "range": [100, 244], "paddingInner": 0.45, "paddingOuter": 0.29, "align": 0.638},
        "axis": {"title": null, "labels": false, "ticks": false, "domainColor": "black", "domainWidth": 2.5}},
      "y": {"field": "pct", "type": "quantitative", "scale": {"domain": [0, 100], "nice": false},
        "axis": {"title": "Cell Percentage (%)", "titleFontSize": 30, "titleFontWeight": "bold", "titleAngle": 270, "titleX": -95, "titleY": 127, "titleAlign": "center", "titleBaseline": "alphabetic",
          "values": [0, 50, 100], "labelFontSize": 30, "labelFontWeight": "bold", "labelPadding": 20, "labelBaseline": "middle", "labelOffset": 4,
          "tickSize": 10, "tickWidth": 2.5, "tickColor": "black", "domainColor": "black", "domainWidth": 2.5, "offset": -110}}
    },
    "layer": [
      {"mark": {"type": "bar", "stroke": "black", "strokeWidth": 2},
        "encoding": {
          "color": {"field": "group", "type": "nominal", "scale": {"domain": ["WT", "MG-G1"], "range": ["#000000", "#8c8c8c"]},
            "legend": {"title": null, "orient": "none", "legendX": 135, "legendY": 293, "direction": "horizontal", "padding": 0,
              "symbolType": "square", "symbolSize": 900, "symbolStrokeColor": "black", "symbolStrokeWidth": 2, "symbolOpacity": 1,
              "labelFontSize": 30, "labelFontWeight": "bold", "labelColor": "black", "labelOffset": 25, "columnPadding": 36}}
        }},
      {"mark": {"type": "rule", "color": "black", "strokeWidth": 2},
        "encoding": {"y": {"field": "lo", "type": "quantitative"}, "y2": {"field": "hi"}}},
      {"mark": {"type": "tick", "color": "black", "thickness": 2, "size": 14, "orient": "horizontal"},
        "encoding": {"y": {"field": "hi", "type": "quantitative"}}},
      {"mark": {"type": "tick", "color": "black", "thickness": 2, "size": 14, "orient": "horizontal"},
        "encoding": {"y": {"field": "lo", "type": "quantitative"}}},
      {"mark": {"type": "text", "fontSize": 40, "font": "Liberation Sans", "fontWeight": "bold", "dy": -12, "baseline": "alphabetic", "color": "black"},
        "encoding": {"y": {"field": "hi", "type": "quantitative"}, "text": {"field": "sig"}}}
    ]
  },
  {
    "width": 177, "height": 238,
    "data": {"name": "viable"},
    "encoding": {
      "x": {"field": "group", "type": "nominal", "scale": {"domain": ["WT", "MG-G1"], "range": [33, 177], "paddingInner": 0.45, "paddingOuter": 0.29, "align": 0.638},
        "axis": {"title": null, "labels": false, "ticks": false, "domainColor": "black", "domainWidth": 2.5}},
      "y": {"field": "pct", "type": "quantitative", "scale": {"domain": [0, 100], "nice": false},
        "axis": {"title": null, "values": [0, 50, 100], "labelFontSize": 30, "labelFontWeight": "bold", "labelPadding": 20, "labelBaseline": "middle", "labelOffset": 4,
          "tickSize": 10, "tickWidth": 2.5, "tickColor": "black", "domainColor": "black", "domainWidth": 2.5, "offset": -43}}
    },
    "layer": [
      {"mark": {"type": "bar", "stroke": "black", "strokeWidth": 2},
        "encoding": {"color": {"field": "group", "type": "nominal", "scale": {"domain": ["WT", "MG-G1"], "range": ["#000000", "#8c8c8c"]}, "legend": null}}},
      {"mark": {"type": "rule", "color": "black", "strokeWidth": 2},
        "encoding": {"y": {"field": "lo", "type": "quantitative"}, "y2": {"field": "hi"}}},
      {"mark": {"type": "tick", "color": "black", "thickness": 2, "size": 14, "orient": "horizontal"},
        "encoding": {"y": {"field": "hi", "type": "quantitative"}}},
      {"mark": {"type": "tick", "color": "black", "thickness": 2, "size": 14, "orient": "horizontal"},
        "encoding": {"y": {"field": "lo", "type": "quantitative"}}},
      {"mark": {"type": "text", "fontSize": 40, "font": "Liberation Sans", "fontWeight": "bold", "dy": -12, "baseline": "alphabetic", "color": "black"},
        "encoding": {"y": {"field": "hi", "type": "quantitative"}, "text": {"field": "sig"}}}
    ]
  }
]
}
